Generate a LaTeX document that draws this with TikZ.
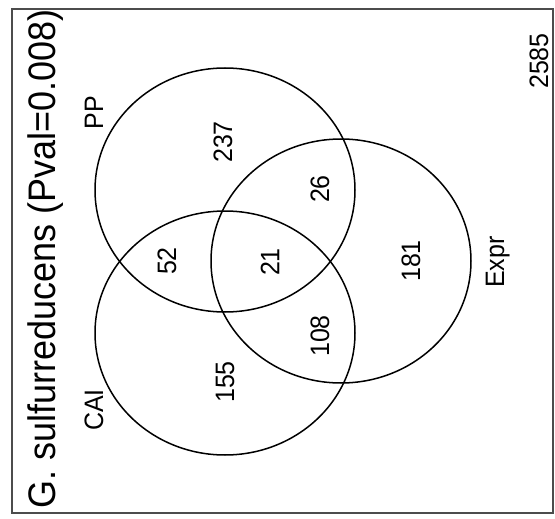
\documentclass[tikz,border=0pt]{standalone}
\usepackage{fontspec}
\setmainfont{Liberation Sans}
\usetikzlibrary{shapes.geometric}

\begin{document}
\begin{tikzpicture}[x=1pt, y=-1pt,
  venn/.style={draw, ellipse, line width=1.5pt, minimum width=260pt, minimum height=244pt, inner sep=0pt},
  count/.style={xscale=1.066, rotate=90, inner sep=0pt, font=\fontsize{25}{25}\selectfont},
  setname/.style={count, anchor=base},
  heading/.style={xscale=1.066, rotate=90, inner sep=0pt, anchor=base, font=\fontsize{36}{36}\selectfont}
]
\useasboundingbox (0,0) rectangle (555,519);
\draw[line width=1.6pt, black!70] (12,9) rectangle (553,513);

% the three sets
\node[venn] (pp) at (225,190) {};
\node[venn] (cai) at (225,333) {};
\node[venn] (expr) at (341,261) {};

\node[heading] (title) at (55,259) {G. sulfurreducens (Pval=0.008)};

\node[setname] (ppname) at (103,113) {PP};
\node[setname] (cainame) at (103,410) {CAI};
\node[setname] (exprname) at (504,262) {Expr};

\node[count] (n237) at (223,142) {237};
\node[count] (n26) at (320,189) {26};
\node[count] (n52) at (167,261) {52};
\node[count] (n21) at (270,262) {21};
\node[count] (n181) at (411,261) {181};
\node[count] (n108) at (320,336) {108};
\node[count] (n155) at (225,382) {155};
\node[count] (n2585) at (539,61) {2585};
\end{tikzpicture}
\end{document}
